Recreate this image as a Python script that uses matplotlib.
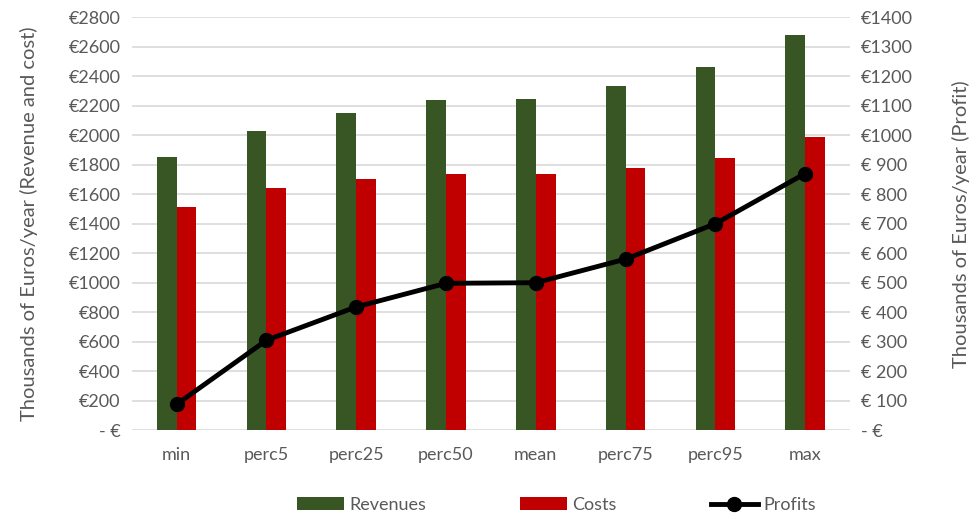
import numpy as np
import matplotlib
matplotlib.use('Agg')
from matplotlib import pyplot as plt
from matplotlib.ticker import FuncFormatter, MultipleLocator

plt.rcParams['font.family'] = ['Lato', 'DejaVu Sans']

categories = ['min', 'perc5', 'perc25', 'perc50', 'mean', 'perc75', 'perc95', 'max']
revenues = [1850, 2030, 2150, 2240, 2245, 2330, 2460, 2680]
costs = [1510, 1640, 1700, 1740, 1740, 1780, 1845, 1990]
profits = [88, 305, 418, 498, 500, 580, 700, 870]

green = '#375623'
red = '#C00000'
grey = '#595959'

fig = plt.figure(figsize=(9.76, 5.19), dpi=100)
ax = fig.add_axes([0.135, 0.171, 0.736, 0.796])
ax2 = ax.twinx()

x = np.arange(len(categories))
w = 0.22
ax.bar(x - w / 2, revenues, w, color=green, label='Revenues', zorder=2)
ax.bar(x + w / 2, costs, w, color=red, label='Costs', zorder=2)
ax2.plot(x, profits, color='black', lw=3.5, marker='o', ms=10, label='Profits', zorder=3)

ax.set_xlim(-0.5, len(categories) - 0.5)
ax.set_ylim(0, 2800)
ax2.set_ylim(0, 1400)
ax.yaxis.set_major_locator(MultipleLocator(200))
ax2.yaxis.set_major_locator(MultipleLocator(100))


def fmt_left(v, pos):
    if v == 0:
        return '- €'
    return '€%d' % v


def fmt_right(v, pos):
    if v == 0:
        return '- €'
    if v < 1000:
        return '€ %d' % v
    return '€%d' % v


ax.yaxis.set_major_formatter(FuncFormatter(fmt_left))
ax2.yaxis.set_major_formatter(FuncFormatter(fmt_right))

ax.set_xticks(x)
ax.set_xticklabels(categories)
ax.grid(axis='y', color='#D9D9D9', lw=1.2, zorder=0)
ax.set_axisbelow(True)

for a in (ax, ax2):
    for s in a.spines.values():
        s.set_visible(False)
    a.tick_params(length=0, labelsize=13, colors=grey, pad=8)
ax.tick_params(axis='x', pad=12)

ax.set_ylabel('Thousands of Euros/year (Revenue and cost)', fontsize=14.5, color=grey, labelpad=22)
ax2.set_ylabel('Thousands of Euros/year (Profit)', fontsize=14.5, color=grey, labelpad=28)

h1, l1 = ax.get_legend_handles_labels()
h2, l2 = ax2.get_legend_handles_labels()
fig.legend(h1 + h2, l1 + l2, loc='lower center', bbox_to_anchor=(0.57, -0.02), ncol=3,
           frameon=False, fontsize=13, labelcolor=grey, columnspacing=5.2,
           handlelength=2.6, handletextpad=0.3)

fig.savefig('out.png', dpi=100)
